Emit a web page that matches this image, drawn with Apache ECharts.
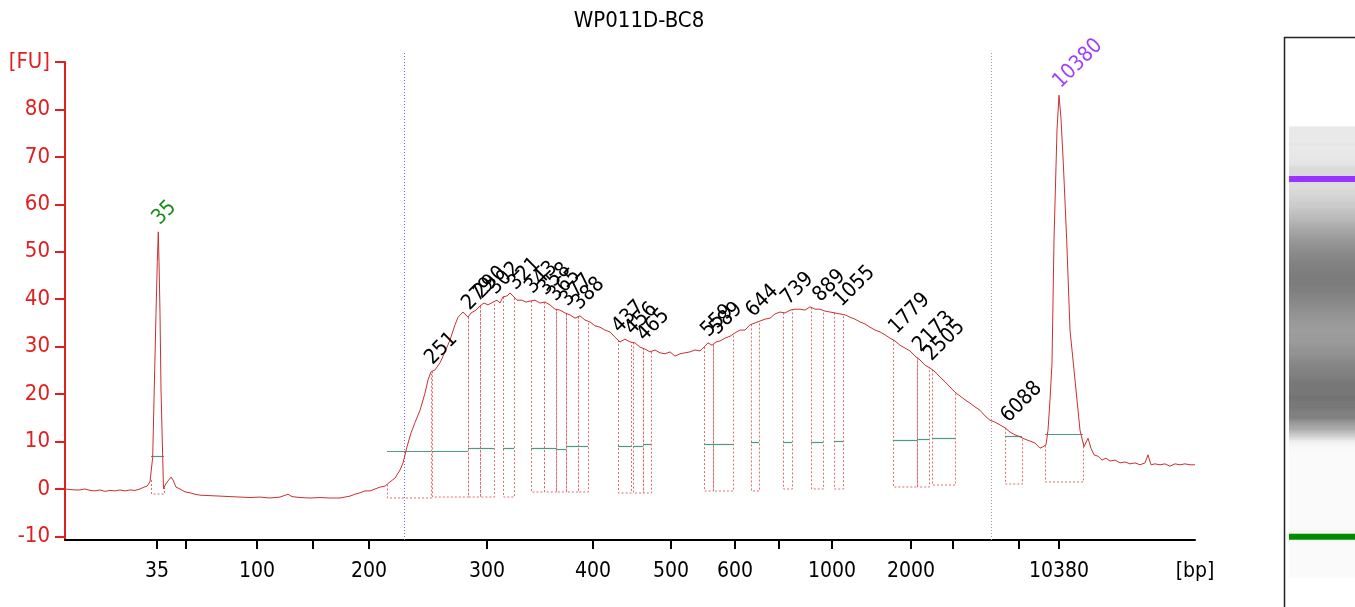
<!DOCTYPE html>
<html><head><meta charset="utf-8">
<script src="https://cdn.jsdelivr.net/npm/echarts@6/dist/echarts.min.js"></script>
<style>html,body{margin:0;padding:0;background:#fff}#c{width:1355px;height:607px}</style>
</head><body><div id="c"></div>
<script>
// ---------- data ----------
const chartTitle = 'WP011D-BC8';
// x axis: migration position units; bp labels at ladder positions
const xTickPos = [92,121,192,248,304,422,528,606,670,714,767,846,888,954,994];
const xLabelPos = [92,192,304,422,528,606,670,767,846,994,1130];
const xLabelText = ['35','100','200','300','400','500','600','1000','2000','10380','[bp]'];
const yTickVals = [-10,0,10,20,30,40,50,60,70,80,90];
const yLabelText = ['-10','0','10','20','30','40','50','60','70','80','[FU]'];

const tracePos = [0,5,10,15,20,25,30,35,40,45,50,55,60,65,70,75,79,82,85,86,87.7,89,91,92.3,93.3,94,95,96,97.7,98.5,100,103,106,108,111,115,120,125,130,135,145,155,165,175,185,195,205,215,223,227,235,245,255,265,275,285,290,295,300,305,310,315,320,325,330,335,338,342,346,350,355,360,363,366,370,375,380,385,390,393,398,403,406,411,415,419,423,428,432,435,438,442,445,448,452,457,461,465,470,475,480,485,490,495,500,505,510,515,520,525,530,535,540,545,550,555,560,565,570,575,580,585,590,595,600,605,610,615,620,625,630,635,640,643,647,651,655,660,665,670,675,680,685,690,695,700,705,710,715,720,725,730,735,740,745,750,755,760,765,770,775,780,785,790,795,800,805,810,815,820,825,830,835,840,845,850,855,860,865,870,875,880,885,890,895,900,905,910,915,920,925,930,935,940,945,950,955,960,965,970,975,978,981,983,985,987,989,992,994,996,998.3,1001.7,1005,1010,1015,1019,1023,1026,1029,1033,1037,1041,1045,1050,1055,1060,1065,1070,1075,1080,1083,1086,1090,1095,1100,1105,1110,1115,1120,1125,1130];
const traceFU = [0.0,-0.1,-0.2,-0.2,0.0,-0.3,-0.4,-0.2,-0.5,-0.3,-0.4,-0.2,-0.4,-0.2,-0.3,0.0,0.4,0.6,1.5,1.9,6.7,18.8,37,48,54.2,48,37,20.9,6.7,0,0.8,1.7,2.5,1.9,0.4,0,-0.6,-0.8,-1.1,-1.3,-1.4,-1.5,-1.6,-1.7,-1.8,-1.7,-1.9,-1.7,-1.1,-1.6,-1.8,-1.9,-1.8,-1.9,-1.9,-1.5,-1.1,-0.8,-0.4,-0.4,0,0.4,0.6,1.5,2.3,4.0,5.5,8.9,11.8,14.0,16.6,20.2,23.0,24.7,25.1,26.6,28.9,31.4,34.6,36.2,37.3,36.2,37.1,37.7,38.6,39.2,38.8,39.4,39.8,39.2,40.5,40.7,41.3,40.7,39.8,39.8,39.4,39.6,39.8,39.2,39.4,38.8,37.9,37.7,37.1,36.7,36.0,36.5,35.6,35.2,34.4,34.1,33.5,33.1,32.0,31.0,31.6,31.0,30.8,29.9,29.5,28.9,29.3,28.7,28.5,28.9,28.0,28.5,28.7,28.9,29.3,29.1,30.1,30.8,30.3,31.0,31.2,31.8,32.2,32.9,33.5,33.5,34.6,35.0,35.4,35.8,36.0,36.9,37.3,37.1,37.7,37.9,37.9,37.7,38.4,37.9,37.9,37.5,37.3,37.1,36.9,36.7,36.2,35.8,35.2,34.8,34.1,33.5,33.1,32.5,31.8,31.2,30.3,29.7,29.1,28.0,27.2,26.1,25.5,24.7,23.6,22.6,21.5,20.4,19.6,18.8,18.1,17.3,16.6,15.4,14.5,14.1,13.5,12.9,12.0,11.4,11.0,10.5,10.1,9.7,8.6,8.9,9.3,12.4,18.8,26.6,52.5,75.7,83.0,78.0,68.7,52.5,33.5,23.0,12.4,8.9,10.7,8.6,7.2,6.9,6.1,6.5,5.9,6.1,5.5,5.7,5.3,5.5,5.1,5.5,7.2,5.1,5.3,5.1,5.3,4.8,5.3,5.1,5.3,5.1,5.1];

// peak labels
const peakText = ['35','251','279','290','302','321','343','358','365','377','388','437','456','465','559','589','644','739','889','1055','1779','2173','2505','6088','10380'];
const peakPos  = [93.3,366,403,415,429,449,466,479,489,501,513,553,566,578,642,651,687,722,754,775,830,854,865,942,994];
const peakKind = [1,0,0,0,0,0,0,0,0,0,0,0,0,0,0,0,0,0,0,0,0,0,0,0,2]; // 0 sample, 1 lower marker, 2 upper marker

// peak integration regions: start, end, baseline (FU), level line (FU)
const regStart  = [86,322,367,403,415,438,466,479,491,501,513,553,568,578,639,648,686,718,746,769,828,852,867,940,980];
const regEnd    = [99,366,403,415,429,449,479,491,501,513,523,566,578,586,648,668,694,727,758,778,852,864,890,957,1018];
const regBottom = [-1.05,-1.9,-1.69,-1.69,-1.69,-1.69,-0.63,-0.63,-0.63,-0.63,-0.63,-0.84,-0.84,-0.84,-0.42,-0.42,-0.42,0,0,0,0.42,0.42,0.84,1.05,1.48];
const regLevel  = [6.95,8.07,8.07,8.58,8.58,8.58,8.58,8.58,8.43,9.0,9.0,9.0,9.0,9.42,9.42,9.42,9.84,9.84,9.84,10.18,10.26,10.6,10.75,11.17,11.59];

// dotted guide lines (lower / upper analysis limits)
const guidePos = [339, 926];

// ---------- helpers ----------
const FONT = '"DejaVu Sans Condensed","DejaVu Sans",sans-serif';
const RED = '#e02020';
function traceAt(p){
  for (let i=0;i<tracePos.length-1;i++){
    if (p>=tracePos[i] && p<=tracePos[i+1]){
      const t=(p-tracePos[i])/(tracePos[i+1]-tracePos[i]);
      return traceFU[i]+t*(traceFU[i+1]-traceFU[i]);
    }
  }
  return traceFU[traceFU.length-1];
}
const markerRegions = [[regStart[0],regEnd[0]],[regStart[24],regEnd[24]]];
function gelFU(p){
  for (const [a,b] of markerRegions){
    if (p>a && p<b){ const fa=traceAt(a), fb=traceAt(b); return fa+(p-a)/(b-a)*(fb-fa); }
  }
  return traceAt(p);
}
const GEL_MIN = -8, GEL_MAX = 1125;
const gelData = [[GEL_MIN, tracePos[0], gelFU(tracePos[0])]];
for (let i=0;i<tracePos.length-1;i++){
  const a=tracePos[i], b=Math.min(tracePos[i+1],GEL_MAX);
  if (a>=GEL_MAX) break;
  gelData.push([a,b,gelFU((a+b)/2)]);
}
function gray(fu){ const g=Math.round(Math.max(112,Math.min(250,250-fu*3.3))); return 'rgb('+g+','+g+','+g+')'; }

const labelData = peakText.map((t,i)=>[peakPos[i], traceAt(peakPos[i]), i]);
const regData = regStart.map((s,i)=>[s, regEnd[i], regBottom[i], regLevel[i]]);
const peakColors = ['#000000','#1a8a1a','#a040ff'];

const chart = echarts.init(document.getElementById('c'), null, {renderer:'canvas'});
chart.setOption({
  animation:false,
  backgroundColor:'#ffffff',
  title:{text:chartTitle, left:634, top:5, textAlign:'center',
    textStyle:{fontFamily:FONT, fontSize:22, fontWeight:'normal', color:'#000'}},
  grid:[
    {left:65, right:160, top:62, bottom:67},
    {left:1289, right:0, top:127, height:450}
  ],
  xAxis:[
    {type:'value', min:0, max:1130, gridIndex:0,
     axisLine:{show:true, onZero:false, lineStyle:{color:'#000', width:2}},
     axisTick:{show:true, customValues:xTickPos, length:9, lineStyle:{color:'#000', width:2}},
     axisLabel:{show:true, customValues:xLabelPos, margin:21, color:'#000', fontFamily:FONT, fontSize:21,
       formatter:(v)=>{const k=xLabelPos.indexOf(v); return k>=0?xLabelText[k]:'';}},
     splitLine:{show:false}},
    {type:'value', min:0, max:1, gridIndex:1, show:false}
  ],
  yAxis:[
    {type:'value', min:-10.75, max:90, gridIndex:0,
     axisLine:{show:true, onZero:false, lineStyle:{color:RED, width:2}},
     axisTick:{show:true, customValues:yTickVals, length:10, lineStyle:{color:RED, width:2}},
     axisLabel:{show:true, customValues:yTickVals, margin:15, color:RED, fontFamily:FONT, fontSize:22,
       formatter:(v)=>{const k=yTickVals.indexOf(v); return k>=0?yLabelText[k]:'';}},
     splitLine:{show:false}},
    {type:'value', min:GEL_MIN, max:GEL_MAX, gridIndex:1, show:false}
  ],
  graphic:[
    {type:'line', shape:{x1:1284.5,y1:37,x2:1284.5,y2:607}, style:{stroke:'#222', lineWidth:1.5}},
    {type:'line', shape:{x1:1284,y1:37.5,x2:1355,y2:37.5}, style:{stroke:'#222', lineWidth:1.5}}
  ],
  series:[
    // gel lane built from the trace
    {type:'custom', xAxisIndex:1, yAxisIndex:1, data:gelData, silent:true,
     renderItem:(params, api)=>{
       const a=api.coord([0, api.value(0)]), b=api.coord([1, api.value(1)]);
       return {type:'rect', shape:{x:a[0], y:b[1]-0.4, width:b[0]-a[0], height:a[1]-b[1]+0.8},
         style:{fill:gray(api.value(2))}};
     }},
    // marker bands on the gel
    {type:'custom', xAxisIndex:1, yAxisIndex:1, silent:true,
     data:peakKind.map((k,i)=>[peakPos[i],k]).filter(d=>d[1]>0),
     renderItem:(params, api)=>{
       const a=api.coord([0, api.value(0)]), b=api.coord([1, api.value(0)]);
       const col = api.value(1)===1 ? '#008a00' : '#9933ff';
       return {type:'rect', shape:{x:a[0], y:a[1]-3, width:b[0]-a[0], height:6}, style:{fill:col}};
     }},
    // guide dotted lines
    {type:'custom', xAxisIndex:0, yAxisIndex:0, silent:true, data:guidePos.map((p,i)=>[p,i]),
     renderItem:(params, api)=>{
       const a=api.coord([api.value(0), -10.75]), b=api.coord([api.value(0), 92]);
       const col = api.value(1)===0 ? '#6a6ad0' : '#b090b0';
       return {type:'line', shape:{x1:Math.round(a[0])+0.5,y1:a[1],x2:Math.round(a[0])+0.5,y2:b[1]},
         style:{stroke:col, lineWidth:1, lineDash:[1,2]}};
     }},
    // peak integration regions
    {type:'custom', xAxisIndex:0, yAxisIndex:0, silent:true, data:regData, z:2,
     renderItem:(params, api)=>{
       const s=api.value(0), e=api.value(1), bot=api.value(2), lev=api.value(3);
       const p1=api.coord([s, traceAt(s)]), p2=api.coord([s, bot]), p3=api.coord([e, bot]), p4=api.coord([e, traceAt(e)]);
       const g1=api.coord([s, lev]), g2=api.coord([e, lev]);
       const fx=v=>Math.round(v)+0.5;
       return {type:'group', children:[
         {type:'polyline', shape:{points:[[fx(p1[0]),p1[1]],[fx(p2[0]),p2[1]],[fx(p3[0]),p3[1]],[fx(p4[0]),p4[1]]]},
          style:{stroke:'#e46a6a', lineWidth:1, lineDash:[2,2], fill:null}},
         {type:'line', shape:{x1:g1[0],y1:Math.round(g1[1])+0.5,x2:g2[0],y2:Math.round(g2[1])+0.5},
          style:{stroke:'#4e9a84', lineWidth:1.2}}
       ]};
     }},
    // the electropherogram trace
    {type:'line', xAxisIndex:0, yAxisIndex:0, data:tracePos.map((p,i)=>[p,traceFU[i]]),
     showSymbol:false, symbol:'none', z:3, lineStyle:{color:'#cc3030', width:1}},
    // peak labels
    {type:'custom', xAxisIndex:0, yAxisIndex:0, silent:true, data:labelData, z:4,
     renderItem:(params, api)=>{
       const i=api.value(2);
       const c=api.coord([api.value(0), api.value(1)]);
       return {type:'text', x:c[0]+5, y:c[1]-3, rotation:Math.PI/4,
         style:{text:peakText[i], fill:peakColors[peakKind[i]], font:'21px '+FONT,
           align:'left', verticalAlign:'bottom', textAlign:'left', textVerticalAlign:'bottom'}};
     }}
  ]
});
</script></body></html>
